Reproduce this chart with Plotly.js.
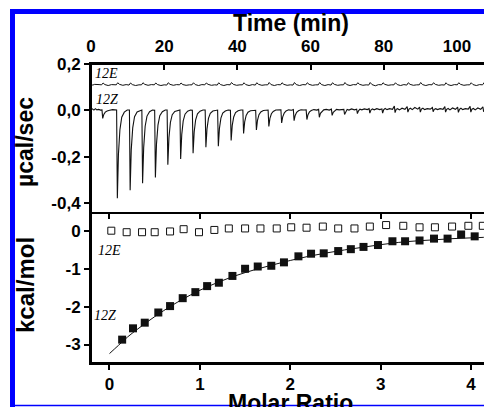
<!DOCTYPE html>
<html>
<head>
<meta charset="utf-8">
<script src="https://cdn.plot.ly/plotly-3.0.1.min.js"></script>
<style>html,body{margin:0;padding:0;background:#fff;}#chart{width:484px;height:407px;}</style>
</head>
<body>
<div id="chart"></div>
<script>
// ---- Top panel: raw ITC thermograms (time in min, power in µcal/sec) ----
const zTrace = [
[0.0,0.002],[0.4,0.006],[0.8,0.001],[1.2,0.007],[1.6,0.002],[2.1,0.004],[2.6,0.001],
[3.0,0.002],[3.2,-0.035],[3.5,-0.018],[3.9,-0.008],[4.4,-0.003],[5.1,0.0],[5.9,0.003],
[7.0,0.001],[7.2,-0.38],[7.5,-0.19],[7.9,-0.084],[8.4,-0.03],[9.1,-0.008],[9.9,0.001],
[10.5,0.001],[10.7,-0.345],[11.0,-0.17],[11.4,-0.076],[11.9,-0.028],[12.6,-0.007],[13.4,0.0],
[13.9,0.001],[14.1,-0.315],[14.4,-0.16],[14.8,-0.069],[15.3,-0.025],[16.0,-0.006],[16.8,0.001],
[17.4,0.0],[17.6,-0.29],[17.9,-0.145],[18.3,-0.064],[18.8,-0.023],[19.5,-0.006],[20.3,0.001],
[20.8,0.001],[21.0,-0.235],[21.3,-0.118],[21.7,-0.052],[22.2,-0.019],[22.9,-0.005],[23.7,0.0],
[24.3,0.001],[24.5,-0.21],[24.8,-0.105],[25.2,-0.046],[25.7,-0.017],[26.4,-0.004],[27.2,0.001],
[27.7,0.0],[27.9,-0.185],[28.2,-0.093],[28.6,-0.041],[29.1,-0.015],[29.8,-0.004],[30.6,0.001],
[31.2,0.001],[31.4,-0.16],[31.7,-0.08],[32.1,-0.035],[32.6,-0.013],[33.3,-0.003],[34.1,0.0],
[34.6,0.001],[34.8,-0.155],[35.1,-0.078],[35.5,-0.034],[36.0,-0.012],[36.7,-0.003],[37.5,0.001],
[38.1,0.0],[38.3,-0.13],[38.6,-0.065],[39.0,-0.029],[39.5,-0.01],[40.2,-0.002],[41.0,0.001],
[41.5,0.001],[41.7,-0.10],[42.0,-0.05],[42.4,-0.022],[42.9,-0.008],[43.6,-0.002],[44.4,0.001],
[45.0,0.0],[45.2,-0.085],[45.5,-0.043],[45.9,-0.019],[46.4,-0.007],[47.1,-0.001],[47.9,0.002],
[48.4,0.001],[48.6,-0.07],[48.9,-0.035],[49.3,-0.015],[49.8,-0.005],[50.5,0.001],[51.3,0.003],
[51.9,0.002],[52.1,-0.055],[52.4,-0.028],[52.8,-0.012],[53.3,-0.003],[54.0,0.002],[54.8,0.0],
[55.3,0.003],[55.5,-0.045],[55.8,-0.022],[56.2,-0.009],[56.7,-0.002],[57.4,0.002],[58.2,0.001],
[58.8,0.002],[59.0,-0.04],[59.3,-0.019],[59.7,-0.007],[60.2,-0.001],[60.9,0.003],[61.7,0.001],
[62.2,0.004],[62.4,-0.03],[62.7,-0.013],[63.1,-0.004],[63.6,0.002],[64.3,0.004],[65.1,0.001],
[65.7,0.005],[65.9,-0.022],[66.2,-0.009],[66.6,-0.001],[67.1,0.004],[67.8,0.002],[68.6,0.005],
[69.1,0.004],[69.3,-0.018],[69.6,-0.005],[70.0,0.004],[70.5,0.001],[71.2,0.006],[72.0,0.002],
[72.6,0.005],[72.8,-0.014],[73.1,-0.002],[73.5,0.005],[74.0,0.002],[74.7,0.006],[75.5,0.003],
[76.0,0.007],[76.2,-0.012],[76.5,0.001],[76.9,0.006],[77.4,0.002],[78.1,0.007],[78.9,0.003],
[79.5,0.006],[79.7,-0.012],[80.0,0.003],[80.4,0.008],[80.9,0.003],[81.6,0.007],[82.4,0.004],
[82.9,0.018],[83.1,-0.01],[83.4,0.004],[83.8,0.007],[84.3,0.002],[85.0,0.009],[85.8,0.004],
[86.4,0.016],[86.6,-0.008],[86.9,0.005],[87.3,0.009],[87.8,0.003],[88.5,0.012],[89.3,0.005],
[89.8,0.014],[90.0,-0.008],[90.3,0.005],[90.7,0.009],[91.2,0.003],[91.9,0.007],[92.7,0.005],
[93.3,0.012],[93.5,-0.006],[93.8,0.004],[94.2,0.007],[94.7,0.003],[95.4,0.007],[96.2,0.004],
[96.7,0.016],[96.9,-0.008],[97.2,0.004],[97.6,0.008],[98.1,0.002],[98.8,0.01],[99.6,0.004],
[100.2,0.014],[100.4,-0.009],[100.7,0.004],[101.1,0.009],[101.6,0.003],[102.3,0.007],[103.1,0.005],
[103.6,0.017],[103.8,-0.008],[104.1,0.005],[104.5,0.008],[105.0,0.002],[105.7,0.01],[106.5,0.004],
[107.1,0.015],[107.3,-0.006],[107.6,0.004],[108.0,0.006]
];
const eTrace = [
[0.0,0.111],[0.5,0.109],[1.0,0.112],[1.6,0.110],[2.2,0.111],
[2.9,0.110],[3.3,0.118],[3.8,0.111],[4.7,0.107],[5.6,0.111],
[6.9,0.110],[7.3,0.119],[7.8,0.112],[8.7,0.108],[9.6,0.111],
[10.4,0.109],[10.8,0.118],[11.3,0.111],[12.2,0.107],[13.1,0.110],
[13.8,0.110],[14.2,0.119],[14.7,0.112],[15.6,0.108],[16.5,0.111],
[17.3,0.110],[17.7,0.118],[18.2,0.111],[19.1,0.107],[20.0,0.110],
[20.7,0.109],[21.1,0.119],[21.6,0.112],[22.5,0.108],[23.4,0.111],
[24.2,0.110],[24.6,0.118],[25.1,0.111],[26.0,0.108],[26.9,0.110],
[27.6,0.110],[28.0,0.119],[28.5,0.111],[29.4,0.107],[30.3,0.111],
[31.1,0.110],[31.5,0.118],[32.0,0.112],[32.9,0.108],[33.8,0.110],
[34.5,0.109],[34.9,0.119],[35.4,0.111],[36.3,0.107],[37.2,0.111],
[38.0,0.110],[38.4,0.120],[38.9,0.112],[39.8,0.108],[40.7,0.110],
[41.4,0.110],[41.8,0.119],[42.3,0.111],[43.2,0.107],[44.1,0.111],
[44.9,0.109],[45.3,0.119],[45.8,0.112],[46.7,0.108],[47.6,0.110],
[48.3,0.110],[48.7,0.120],[49.2,0.111],[50.1,0.107],[51.0,0.111],
[51.8,0.110],[52.2,0.119],[52.7,0.112],[53.6,0.108],[54.5,0.110],
[55.2,0.109],[55.6,0.120],[56.1,0.111],[57.0,0.107],[57.9,0.111],
[58.7,0.110],[59.1,0.119],[59.6,0.112],[60.5,0.108],[61.4,0.110],
[62.1,0.110],[62.5,0.120],[63.0,0.111],[63.9,0.107],[64.8,0.111],
[65.6,0.109],[66.0,0.119],[66.5,0.112],[67.4,0.108],[68.3,0.110],
[69.0,0.110],[69.4,0.120],[69.9,0.111],[70.8,0.107],[71.7,0.111],
[72.5,0.110],[72.9,0.119],[73.4,0.112],[74.3,0.108],[75.2,0.110],
[75.9,0.109],[76.3,0.120],[76.8,0.111],[77.7,0.106],[78.6,0.111],
[79.4,0.110],[79.8,0.119],[80.3,0.112],[81.2,0.108],[82.1,0.110],
[82.8,0.110],[83.2,0.119],[83.7,0.111],[84.6,0.107],[85.5,0.111],
[86.3,0.109],[86.7,0.119],[87.2,0.112],[88.1,0.108],[89.0,0.110],
[89.7,0.110],[90.1,0.120],[90.6,0.111],[91.5,0.107],[92.4,0.111],
[93.2,0.110],[93.6,0.119],[94.1,0.112],[95.0,0.108],[95.9,0.110],
[96.6,0.109],[97.0,0.119],[97.5,0.111],[98.4,0.107],[99.3,0.111],
[100.1,0.110],[100.5,0.119],[101.0,0.112],[101.9,0.108],[102.8,0.110],
[103.5,0.110],[103.9,0.119],[104.4,0.111],[105.3,0.107],[106.2,0.111],
[107.0,0.110],[107.4,0.119],[107.9,0.111]
];

// ---- Bottom panel: integrated heats (kcal/mol) vs molar ratio ----
const zRatio = [0.14,0.26,0.39,0.54,0.67,0.81,0.95,1.08,1.21,1.36,1.50,1.64,1.79,1.93,2.09,2.23,2.37,2.53,2.67,2.81,2.97,3.13,3.27,3.43,3.59,3.74,3.89,4.04];
const zHeat  = [-2.87,-2.57,-2.42,-2.15,-1.98,-1.77,-1.61,-1.45,-1.36,-1.18,-0.99,-0.93,-0.91,-0.82,-0.66,-0.59,-0.58,-0.52,-0.47,-0.41,-0.36,-0.26,-0.26,-0.24,-0.19,-0.19,-0.08,-0.13];
const eRatio = [0.02,0.19,0.36,0.50,0.67,0.82,0.99,1.16,1.32,1.50,1.67,1.85,2.01,2.18,2.36,2.53,2.71,2.88,3.06,3.25,3.43,3.60,3.79,3.97,4.13];
const eHeat  = [0.02,-0.02,-0.02,-0.02,0.00,0.06,-0.02,0.04,0.08,0.08,0.08,0.08,0.11,0.10,0.13,0.08,0.08,0.13,0.17,0.15,0.11,0.11,0.13,0.15,0.15];
const fitRatio = [0.0,0.1,0.2,0.3,0.4,0.5,0.6,0.8,1.0,1.2,1.4,1.6,1.8,2.0,2.2,2.4,2.6,2.8,3.0,3.2,3.4,3.6,3.8,4.0,4.2];
const fitHeat  = [-3.24,-3.02,-2.80,-2.61,-2.43,-2.26,-2.10,-1.81,-1.56,-1.35,-1.17,-1.02,-0.89,-0.77,-0.66,-0.57,-0.49,-0.42,-0.35,-0.29,-0.25,-0.22,-0.19,-0.17,-0.15];

// ---- Tick labels ----
const timeTicks = [0,20,40,60,80,100];
const timeTickText = ['0','20','40','60','80','100'];
const powerTicks = [0.2,0.0,-0.2,-0.4];
const powerTickText = ['0,2','0,0','-0,2','-0,4'];
const heatTicks = [0,-1,-2,-3];
const heatTickText = ['0','-1','-2','-3'];
const ratioTicks = [0,1,2,3,4];
const ratioTickText = ['0','1','2','3','4'];

const SANS = 'Liberation Sans, Arial, Helvetica, sans-serif';
const SERIF = 'Liberation Serif, Times New Roman, serif';

const traces = [
  {x: eTrace.map(p => p[0]), y: eTrace.map(p => p[1]), xaxis: 'x', yaxis: 'y', mode: 'lines',
   line: {color: '#111', width: 1}, hoverinfo: 'skip'},
  {x: zTrace.map(p => p[0]), y: zTrace.map(p => p[1]), xaxis: 'x', yaxis: 'y', mode: 'lines',
   line: {color: '#111', width: 1.1}, hoverinfo: 'skip'},
  {x: fitRatio, y: fitHeat, xaxis: 'x2', yaxis: 'y2', mode: 'lines',
   line: {color: '#111', width: 1, shape: 'spline'}, hoverinfo: 'skip'},
  {x: zRatio, y: zHeat, xaxis: 'x2', yaxis: 'y2', mode: 'markers',
   marker: {symbol: 'square', size: 8, color: '#111'}},
  {x: eRatio, y: eHeat, xaxis: 'x2', yaxis: 'y2', mode: 'markers',
   marker: {symbol: 'square-open', size: 7, color: '#111', line: {width: 1, color: '#111'}}},
  // empty helper traces so the tick-only axes are drawn
  {x: [], y: [], xaxis: 'x3', yaxis: 'y', mode: 'lines', hoverinfo: 'skip'},
  {x: [], y: [], xaxis: 'x4', yaxis: 'y2', mode: 'lines', hoverinfo: 'skip'}
];

function ax(extra) {
  return Object.assign({
    showgrid: false, zeroline: false, tickcolor: '#000', tickwidth: 2, ticklen: 5,
    tickfont: {family: SANS, size: 17, color: '#000', weight: 'bold'}
  }, extra);
}

const blue = '#0000ff';
const frame = {color: '#000', width: 2};
const layout = {
  width: 484, height: 407,
  margin: {l: 91, r: 0, t: 64, b: 44, pad: 0},
  paper_bgcolor: '#fff', plot_bgcolor: '#fff',
  showlegend: false,
  font: {family: SANS, color: '#000'},
  // time axis: labels and frame line on top
  xaxis: ax({domain: [0, 1], range: [0, 107.4], side: 'top', anchor: 'y', ticks: '',
    showline: true, linecolor: '#000', linewidth: 2,
    tickvals: timeTicks, ticktext: timeTickText, ticklabelstandoff: 3}),
  // time-axis tick marks pointing down into the upper panel
  xaxis3: ax({range: [0, 107.4], overlaying: 'x', anchor: 'free', position: 1, side: 'bottom',
    ticks: 'outside', tickvals: timeTicks, showticklabels: false}),
  yaxis: ax({domain: [0.5017, 1], range: [-0.4436, 0.2], anchor: 'x', ticks: 'outside',
    showline: true, linecolor: '#000', linewidth: 2, tickvals: powerTicks, ticktext: powerTickText}),
  xaxis2: ax({domain: [0, 1], range: [-0.2046, 4.143], side: 'bottom', anchor: 'y2', ticks: 'outside',
    showline: true, linecolor: '#000', linewidth: 2, tickvals: ratioTicks, ticktext: ratioTickText}),
  // molar-ratio tick marks pointing down from the panel divider
  xaxis4: ax({range: [-0.2046, 4.143], overlaying: 'x2', anchor: 'free', position: 0.5017, side: 'bottom',
    ticks: 'outside', tickvals: ratioTicks, showticklabels: false}),
  yaxis2: ax({domain: [0, 0.5017], range: [-3.49, 0.49], anchor: 'x2', ticks: 'outside',
    showline: true, linecolor: '#000', linewidth: 2, tickvals: heatTicks, ticktext: heatTickText}),
  annotations: [
    {text: '<b>Time (min)</b>', xref: 'paper', yref: 'paper', x: 0.5089, y: 1.1371, xanchor: 'center', yanchor: 'middle',
     showarrow: false, font: {family: SANS, size: 23, color: '#000'}},
    {text: '<b>Molar Ratio</b>', xref: 'paper', yref: 'paper', x: 0.5064, y: -0.1322, xanchor: 'center', yanchor: 'middle',
     showarrow: false, font: {family: SANS, size: 23, color: '#000'}},
    {text: '<b>µcal/sec</b>', xref: 'paper', yref: 'paper', x: -0.1679, y: 0.7391, xanchor: 'center', yanchor: 'middle',
     textangle: -90, showarrow: false, font: {family: SANS, size: 23, color: '#000'}},
    {text: '<b>kcal/mol</b>', xref: 'paper', yref: 'paper', x: -0.1654, y: 0.2609, xanchor: 'center', yanchor: 'middle',
     textangle: -90, showarrow: false, font: {family: SANS, size: 24, color: '#000'}},
    {text: '<i>12E</i>', xref: 'paper', yref: 'paper', x: 0.0407, y: 0.9666, xanchor: 'center', yanchor: 'middle',
     showarrow: false, font: {family: SERIF, size: 14, color: '#000'}},
    {text: '<i>12Z</i>', xref: 'paper', yref: 'paper', x: 0.0407, y: 0.8829, xanchor: 'center', yanchor: 'middle',
     showarrow: false, font: {family: SERIF, size: 14, color: '#000'}},
    {text: '<i>12E</i>', xref: 'paper', yref: 'paper', x: 0.0483, y: 0.3779, xanchor: 'center', yanchor: 'middle',
     showarrow: false, font: {family: SERIF, size: 14, color: '#000'}},
    {text: '<i>12Z</i>', xref: 'paper', yref: 'paper', x: 0.0356, y: 0.1572, xanchor: 'center', yanchor: 'middle',
     showarrow: false, font: {family: SERIF, size: 14, color: '#000'}}
  ],
  shapes: [
    // frame lines: left, top, panel divider, bottom
    {type: 'line', xref: 'paper', yref: 'paper', x0: 0, x1: 0, y0: 0, y1: 1, line: frame, layer: 'above'},
    {type: 'line', xref: 'paper', yref: 'paper', x0: 0, x1: 1.01, y0: 1, y1: 1, line: frame, layer: 'above'},
    {type: 'line', xref: 'paper', yref: 'paper', x0: 0, x1: 1.01, y0: 0.5017, y1: 0.5017, line: frame, layer: 'above'},
    {type: 'line', xref: 'paper', yref: 'paper', x0: 0, x1: 1.01, y0: 0, y1: 0, line: frame, layer: 'above'},
    // blue border
    {type: 'rect', xref: 'paper', yref: 'paper', x0: -0.2061, x1: -0.1934, y0: -0.1472, y1: 1.1839,
     fillcolor: blue, line: {width: 0}, layer: 'above'},
    {type: 'rect', xref: 'paper', yref: 'paper', x0: -0.2061, x1: 1.01, y0: 1.1672, y1: 1.1839,
     fillcolor: blue, line: {width: 0}, layer: 'above'},
    {type: 'rect', xref: 'paper', yref: 'paper', x0: -0.2061, x1: 1.01, y0: -0.1448, y1: -0.1398,
     fillcolor: blue, line: {width: 0}, layer: 'above'}
  ]
};

Plotly.newPlot('chart', traces, layout, {displayModeBar: false});
</script>
</body>
</html>
